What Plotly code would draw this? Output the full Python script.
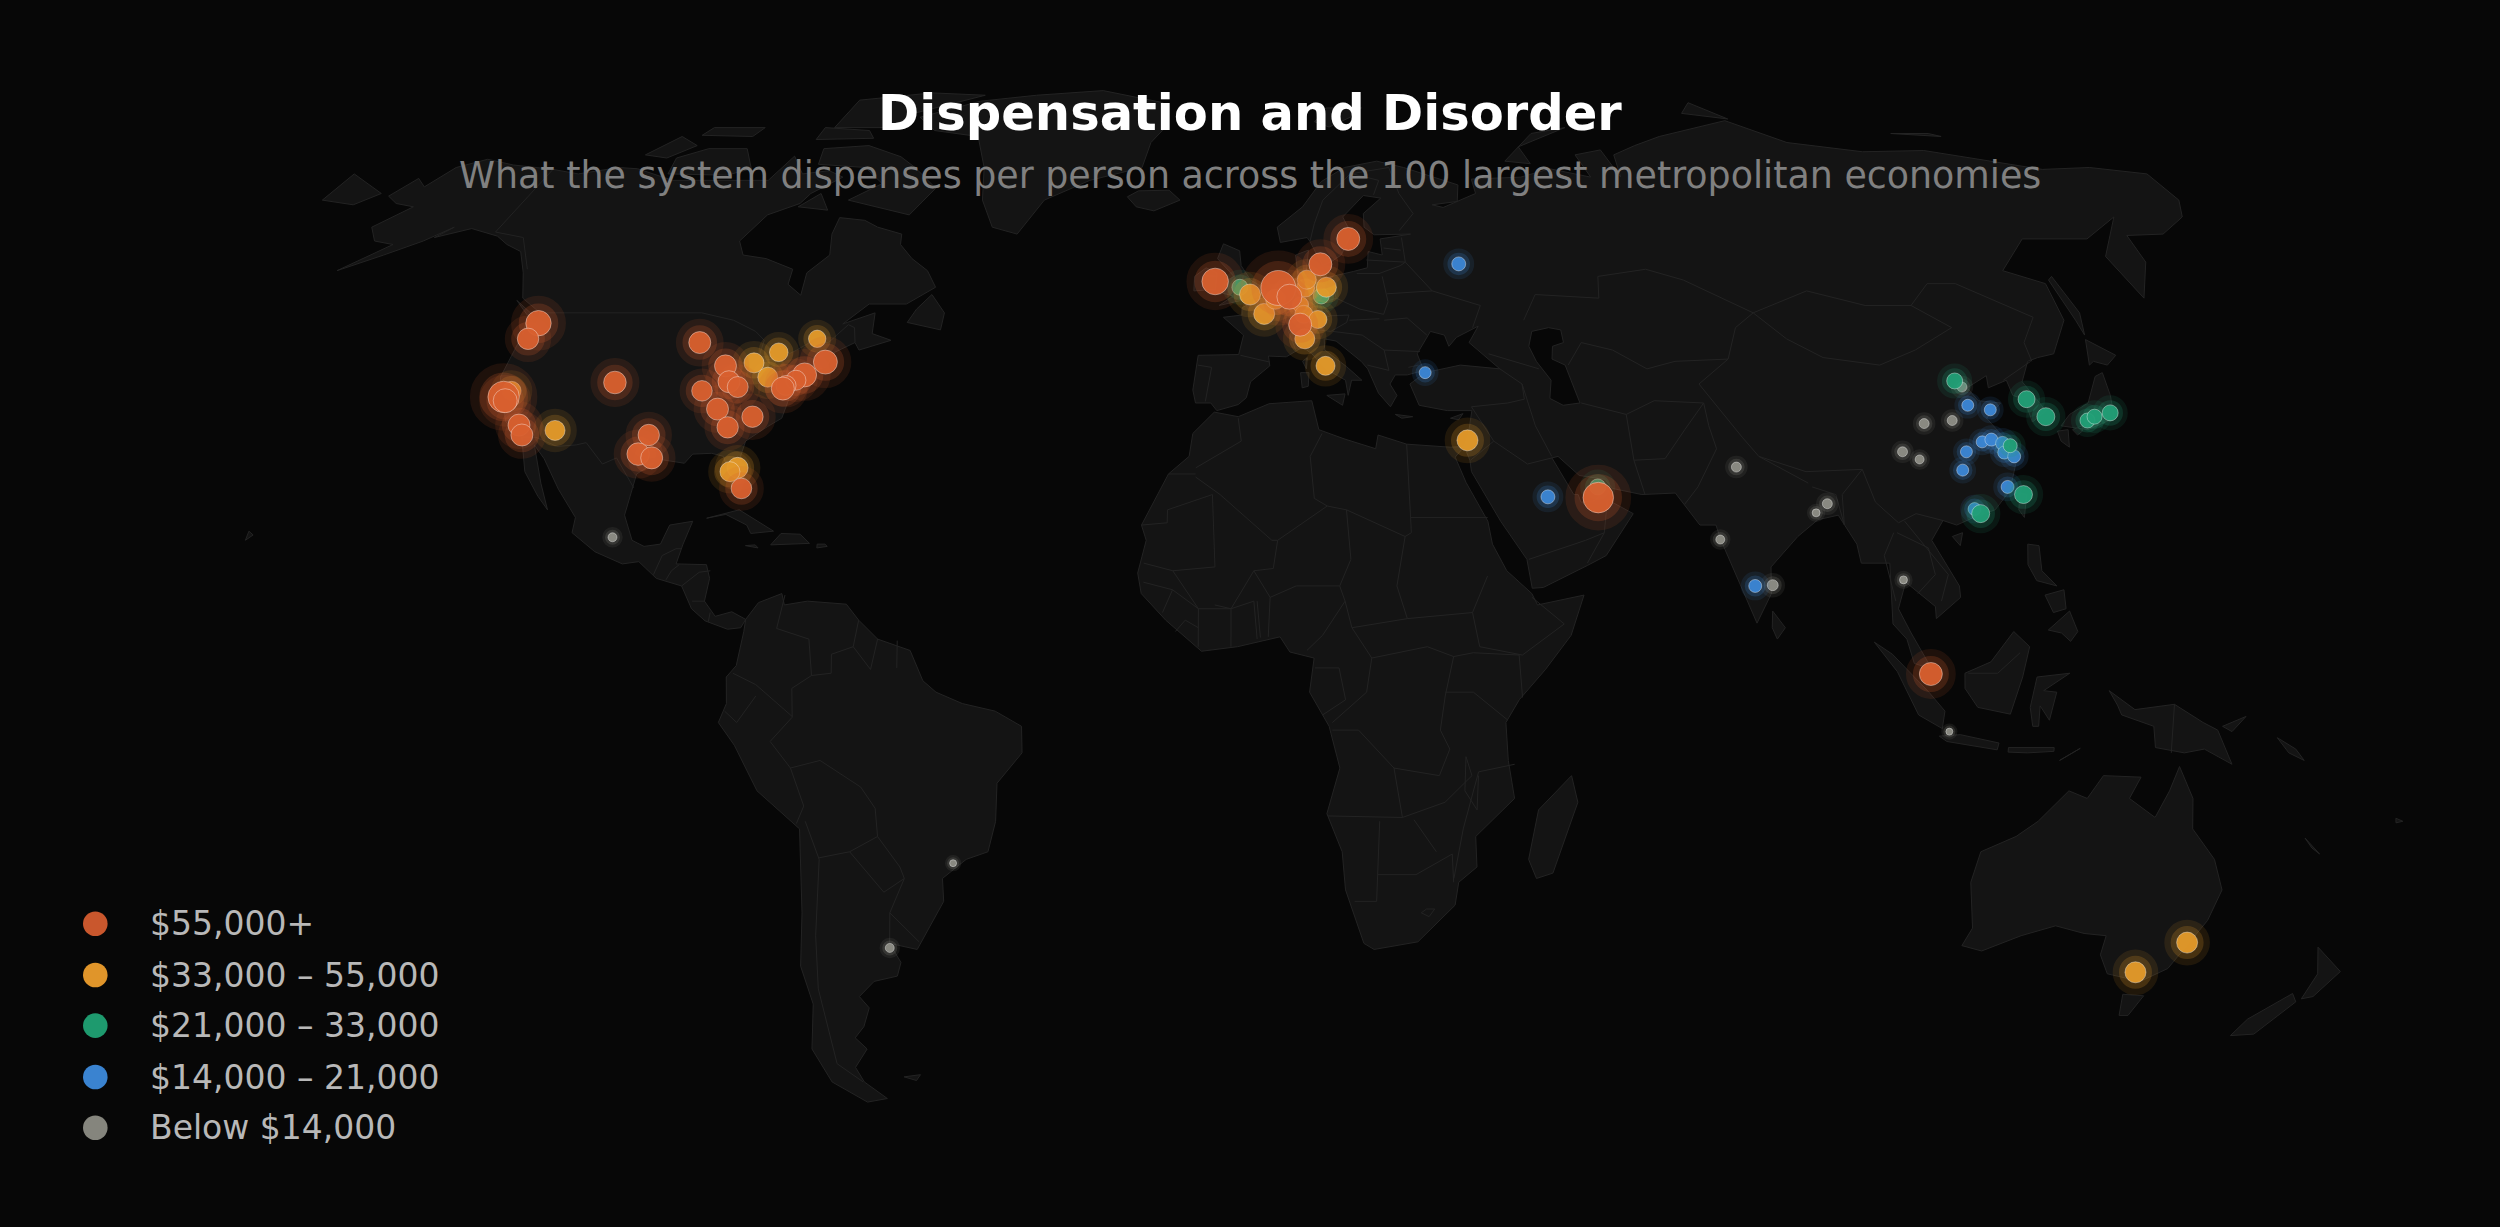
import numpy as np
import plotly.graph_objects as go

W, H = 2500, 1227
BG = "#070707"
LAND = "#141414"
BORDER = "#232323"

tier_names = ["$55,000+", "$33,000 – 55,000", "$21,000 – 33,000", "$14,000 – 21,000", "Below $14,000"]
tier_colors = ["#D9602F", "#E49A2A", "#22A077", "#3C87D6", "#8E8E86"]
legend_colors = ["#C9572D", "#E0952A", "#1E9A6E", "#3A83D0", "#85857D"]

# city, lon, lat, radius
red_cities = ["San Francisco", "San Jose", "Seattle", "Portland", "Los Angeles", "San Diego", "Denver",
              "Minneapolis", "Chicago", "Indianapolis", "Cincinnati", "St. Louis", "Nashville", "Atlanta",
              "Charlotte", "Dallas", "Austin", "Houston", "Miami", "Boston", "New York", "Philadelphia",
              "Baltimore", "Washington", "Dublin", "Amsterdam", "Dusseldorf", "Copenhagen", "Stockholm",
              "Zurich", "Abu Dhabi", "Singapore"]
red_lon = [-122.4, -121.9, -122.3, -122.7, -118.2, -117.2, -105.0, -93.3, -87.6, -86.2, -84.5, -90.2, -86.8,
           -84.4, -80.8, -96.8, -97.7, -95.4, -80.2, -71.1, -74.0, -75.2, -76.6, -77.0, -6.3, 4.9, 6.8, 12.6,
           18.1, 8.5, 54.6, 103.8]
red_lat = [37.8, 37.3, 47.6, 45.5, 34.1, 32.8, 39.7, 45.0, 41.9, 39.8, 39.1, 38.6, 36.2, 33.8, 35.2, 32.8,
           30.3, 29.8, 25.8, 42.4, 40.7, 40.0, 39.3, 38.9, 53.3, 52.4, 51.2, 55.7, 59.3, 47.4, 24.6, 1.4]
red_r = [15.7, 12, 12.7, 10.7, 11, 11, 11.3, 11, 11, 11, 10.5, 10.3, 11, 10.7, 10.7, 10.7, 11.3, 11, 10.3, 12,
         12, 10, 10, 11.5, 13.3, 17.5, 12.5, 11.5, 11.5, 11.5, 15.3, 11.5]

yellow_cities = ["Sacramento", "Phoenix", "Detroit", "Pittsburgh", "Toronto", "Montreal", "Orlando", "Tampa",
                 "London", "Paris", "Brussels", "Hanover", "Hamburg", "Berlin", "Frankfurt", "Stuttgart",
                 "Munich", "Milan", "Rome", "Tel Aviv", "Sydney", "Melbourne"]
yellow_lon = [-121.5, -112.1, -83.0, -80.0, -79.4, -73.6, -81.4, -82.5, -0.1, 2.35, 4.35, 9.7, 10.0, 13.4, 8.7,
              9.2, 11.6, 9.2, 12.5, 34.8, 151.2, 145.0]
yellow_lat = [38.6, 33.4, 42.3, 40.4, 43.7, 45.5, 28.5, 28.0, 51.5, 48.85, 50.85, 52.4, 53.55, 52.5, 50.1, 48.8,
              48.1, 45.5, 41.9, 32.1, -33.9, -37.8]
yellow_r = [9.5, 10, 10, 10, 9.3, 8.7, 10.5, 10, 10.5, 10.5, 10, 9, 9.5, 10, 8, 9, 9, 10, 9.5, 10.5, 10.5, 10.5]

green_cities = ["Birmingham", "Leipzig", "Dubai", "Beijing", "Seoul", "Busan", "Osaka", "Nagoya", "Tokyo",
                "Shanghai", "Taipei", "Shenzhen"]
green_lon = [-1.9, 12.4, 54.7, 116.4, 127.0, 129.0, 135.5, 136.9, 139.7, 121.6, 121.5, 114.1]
green_lat = [52.5, 51.3, 26.0, 39.9, 37.5, 35.2, 34.7, 35.2, 35.7, 31.4, 25.0, 22.5]
green_r = [8, 8, 8, 8, 8.5, 9, 7.5, 7.5, 8, 7, 9, 9]

blue_cities = ["Moscow", "Istanbul", "Riyadh", "Bangalore", "Jinan", "Qingdao", "Wuhan", "Changsha", "Hefei",
               "Nanjing", "Suzhou", "Hangzhou", "Ningbo", "Fuzhou", "Guangzhou"]
blue_lon = [37.6, 29.0, 46.7, 77.6, 117.0, 120.4, 114.3, 112.9, 117.3, 118.9, 120.5, 120.3, 121.7, 119.3, 113.3]
blue_lat = [55.75, 41.0, 24.7, 13.0, 36.7, 36.1, 30.6, 28.2, 31.9, 32.2, 31.7, 30.5, 30.0, 26.0, 23.1]
blue_r = [7, 6, 7, 6.5, 6, 6, 6, 6, 6, 6.5, 7, 6.5, 6.5, 6.5, 6.5]

gray_cities = ["Mexico City", "Buenos Aires", "Sao Paulo", "Delhi", "Mumbai", "Chennai", "Kolkata", "Dhaka",
               "Bangkok", "Jakarta", "Tianjin", "Xi'an", "Zhengzhou", "Chengdu", "Chongqing"]
gray_lon = [-99.1, -58.4, -46.6, 77.1, 72.9, 80.3, 88.4, 90.4, 100.5, 106.8, 117.2, 108.9, 113.6, 104.1, 106.5]
gray_lat = [19.4, -34.6, -23.5, 28.6, 19.1, 13.1, 22.6, 23.8, 13.8, -6.2, 39.1, 34.3, 34.7, 30.6, 29.6]
gray_r = [4.5, 4.5, 3.5, 5, 4.5, 5.5, 4, 5, 4, 3.5, 5, 5, 5, 5, 4.5]

north_america = [(-168,65.6),(-166,68.3),(-163,67),(-161,70),(-156.5,71.3),(-150,70.4),(-141,69.7),(-135,69),(-128,70),(-124,69.8),(-115,68),(-108,68),(-102,68),(-96,68),(-94,71.8),(-90,69),(-85,69.5),(-81.5,68.5),(-86,66),(-87,64.5),(-92,62.8),(-94.5,59),(-92.5,57),(-88,56.5),(-82.3,55),(-82,52.9),(-79,51.4),(-79.5,54.5),(-76.7,57),(-78,60),(-78,62.4),(-73,62),(-70,61),(-65,60),(-64.5,58.5),(-61.5,56.5),(-58,54.8),(-55.7,52.5),(-60,50.2),(-66.5,50.2),(-70,47.5),(-65,49),(-64.5,46.2),(-61,45.3),(-66,44),(-67,45),(-70,43.7),(-70.7,41.8),(-74,40.7),(-75.5,38),(-76,35),(-78,33.9),(-81,32),(-81.3,30),(-80,26.8),(-80.4,25.2),(-81.8,26.2),(-82.8,28),(-84,30),(-86,30.4),(-89,30.3),(-90,29.1),(-94,29.6),(-97.2,27.7),(-97.5,25),(-97.8,22.3),(-96,19),(-94,18.2),(-91.5,18.5),(-90.5,21),(-87,21.5),(-88,18.5),(-88.7,15.9),(-84,15.8),(-83.3,14),(-83.8,11),(-82,9),(-79.5,9.6),(-77.3,8.6),(-78,7.5),(-80,7.3),(-81.5,7.8),(-83.5,8.4),(-85.7,10),(-87.5,13),(-91.5,14),(-94.5,16.2),(-97,15.9),(-101.5,17.5),(-105.5,20),(-105.4,22),(-109,25.7),(-112.5,29.7),(-114.7,31.5),(-112,26.5),(-110,23),(-112,24.8),(-115,28),(-117.1,32.5),(-120.5,34.5),(-122.5,37.5),(-124.3,40.4),(-124,46),(-124.7,48.4),(-122.7,47.5),(-123,49),(-127.5,51),(-130.3,54.5),(-133.5,57.5),(-137,58.5),(-140,59.7),(-146,60.8),(-151.5,59.5),(-149.5,61),(-153,59),(-158,57),(-164,54.8),(-158,58.5),(-162,59),(-165,61),(-161,64),(-165,64.5)]
south_america = [(-77.3,8.6),(-75.5,10.8),(-72,12),(-71.5,10.5),(-68,11),(-62,10.6),(-60,8.5),(-57,6),(-52,4.5),(-50,0.5),(-48,-1),(-44,-2.5),(-39,-3.5),(-35,-5.5),(-35,-9),(-39,-13),(-39.5,-18),(-41,-22),(-44.5,-23),(-48.5,-25.5),(-48.7,-28.5),(-52,-32.5),(-54,-34.8),(-58.3,-34),(-57,-36.5),(-58,-38.3),(-62,-39),(-65,-41),(-63.8,-42.5),(-65.5,-45),(-67.5,-46.5),(-66,-48),(-69,-50.5),(-68.3,-52.5),(-65.2,-54.8),(-69,-55.3),(-74,-52.5),(-75.5,-48),(-73,-42),(-73.5,-37),(-71.5,-30),(-70,-19),(-76,-14),(-79,-8),(-81.3,-5),(-80,-2.5),(-80,1),(-78.5,2.5),(-77.5,7)]
africa = [(-5.9,35.8),(-2,35.2),(3,36.9),(10,37.3),(11,33.5),(15,32.3),(20,31),(20.5,32.8),(25,31.6),(32,31.2),(34.2,31.3),(32.6,29.9),(34,26.6),(37,21.5),(37.5,18.5),(39.5,15),(43.2,12),(44,10.5),(51.2,11.8),(49,6.5),(45,2),(41,-2),(39,-5),(39.5,-10),(40.7,-15),(35,-20),(35.5,-24),(32.8,-26),(32.5,-29),(27,-33.8),(20,-34.8),(18.3,-34),(15,-27),(14.3,-22),(11.8,-17),(13.7,-11),(12,-5.5),(9,-1),(9.7,3.5),(6,4.3),(4.5,6.3),(-2,5),(-7.5,4.4),(-13,8.5),(-16.8,12),(-17.4,14.7),(-16.2,19),(-17,21),(-13,27.7),(-9.8,30),(-9.3,33)]
eurasia = [(-9.5,38.7),(-8.8,43.3),(-2,43.4),(-1.2,46),(-4.7,48.4),(-1.5,48.7),(-1.5,49.7),(2,51),(4,52),(5,53.3),(8.5,53.7),(8.2,57),(10.6,57.7),(10,54.8),(11,54),(14,53.9),(18.5,54.7),(21,55.2),(21.5,57.5),(24,57),(24,59.3),(29.8,60),(23,59.9),(21.3,61),(21.5,63),(25.3,65.3),(22,65.7),(17.5,62.5),(18.8,60),(16.5,57),(14.5,56),(13,55.5),(11,58.9),(10.5,59.5),(5.5,58.8),(5,61),(10,64),(14,67.8),(19,70),(25.8,71),(31,70),(41,67.3),(40,64.8),(35,64.3),(37,63.9),(44,66),(44,68.2),(54,68.5),(60.5,69.8),(68,68.5),(67,72),(72.8,72.8),(74,68.5),(75,72),(80.5,73.5),(87,75),(104,77.7),(113,74),(127,72.5),(140,72.7),(160,69.7),(170,70),(180,69),(180,65),(177,62.5),(170,60),(163,59.8),(162,56),(156.5,51),(155.6,56.8),(164,62.5),(155,59.3),(143,59.3),(135,54.8),(141,53),(140,48),(135,43.5),(132,43),(130,42.5),(127.5,39.8),(129.4,36),(126.5,34.5),(126.6,37.5),(125,38),(125,40),(121.5,39),(122,40.6),(118,39),(119,37.3),(122.5,37),(119.3,35),(121.9,31.2),(121.9,29.5),(119.5,25.5),(116.5,23),(113.5,22.2),(110,21),(108,21.6),(105.7,19),(109,13),(109,11.5),(105,8.7),(105,10.3),(100.8,13.5),(99.3,10),(101,6.8),(104,2),(101.3,2.8),(100.3,6),(98.3,8),(98.7,16),(94.3,16),(94,18.5),(91.8,22.3),(88.5,21.7),(85,19.5),(80.3,15.5),(80,12),(77.5,8.1),(73,19),(72.5,21),(70,21),(66.8,25.2),(61.5,25),(57,25.8),(56,27),(52,27.5),(49,30),(48,29.8),(50.8,25),(51.5,25),(51.8,24),(54,24.2),(56.3,26),(56.7,24),(59.8,22.5),(55,17),(52,15.7),(45,12.8),(43.3,12.7),(42.7,16.5),(39,21.5),(35,28),(34.9,29.5),(34.2,31.3),(35,32.8),(36,36),(32,36),(27.5,36.7),(26.3,39.5),(29,41),(35,42),(41.5,41.5),(37,45),(39,47.2),(35,45.7),(33.5,44.5),(33,46),(30.7,46.5),(28,43.5),(28.8,41.3),(26,40.7),(24,40.7),(23,39.5),(24,38),(22.8,36.5),(21,38.3),(19.5,41.5),(18.5,42.5),(14.5,45.2),(12.5,45.5),(12.5,44),(16,41.8),(18.4,40),(16.7,40),(16,38),(15.7,40),(12.5,41.5),(10.3,43.5),(8.8,44.4),(6,43.1),(3,43.2),(3.2,41.9),(0,39.8),(-0.7,37.7),(-2,36.8),(-5.5,36),(-6.5,37),(-9,37)]
australia = [(114,-22),(113.5,-26),(115.8,-32),(115,-34.3),(118.5,-35),(124,-33),(129,-31.7),(134,-32.7),(137.7,-33),(138,-35.5),(140.5,-38),(146.5,-39),(150,-37.3),(153,-31),(153.5,-27),(150.8,-23),(146.2,-19),(145.3,-15),(142.5,-10.8),(141.5,-14),(140,-17.5),(135.5,-15),(136.8,-12.2),(131,-12),(129,-15),(126,-14),(122,-18),(119,-20)]
islands = [
    [(-80,73.5),(-72,71.7),(-68,70),(-62,66.8),(-65,62.8),(-72,64),(-78,65),(-73,67.5),(-78,70),(-88,70.5),(-89,73)],
    [(-117,69),(-105,68.8),(-101,69.8),(-105,73),(-113,73),(-118,71.5)],
    [(-125,72),(-120,71.5),(-116,73.5),(-121,75)],
    [(-90,76.5),(-78,76.5),(-75,79),(-62,82.5),(-75,83),(-90,81.5)],
    [(-92,74.5),(-80,74.7),(-82,76),(-92,76.5)],
    [(-117,75.2),(-106,75),(-105,76.5),(-116,76.5)],
    [(-59,47.7),(-53,46.7),(-53,49),(-56,51.5),(-58,49.5)],
    [(-87,64),(-81,63.5),(-84,66)],
    [(-128.3,50.7),(-123.4,48.4),(-125,48.7)],
    [(-73,78.3),(-68,76),(-58,75),(-54,70),(-52,65),(-48.5,61),(-43.5,60),(-40,65),(-32,68),(-22,70),(-21,74),(-18,77),(-20,81),(-35,83.5),(-50,82.5),(-62,81.3)],
    [(-24,65.5),(-22,64),(-18.5,63.4),(-13.7,65),(-16,66.5),(-22,66.4)],
    [(-84.9,21.9),(-80,23),(-74.2,20.2),(-77.7,19.9),(-78.5,21),(-82,22.4)],
    [(-74.4,18.4),(-68.4,18.6),(-70,19.8),(-73,19.9)],
    [(-78.3,18.3),(-76.3,18),(-76.8,18.4)],
    [(-67.2,18),(-65.6,18.2),(-66,18.5),(-67.2,18.5)],
    [(-61,-51.8),(-58,-51.5),(-59,-52.3)],
    [(49.3,-12),(50.5,-15.5),(47.5,-24.8),(45,-25.5),(43.5,-23),(44.5,-16.5)],
    [(-5.5,50),(1.3,51.2),(1.7,52.7),(0,53.5),(-1.7,55.5),(-2,57.6),(-5,58.6),(-6,56.5),(-3,54),(-4.5,53.3),(-5,51.7),(-3,51.3)],
    [(-10,52),(-6.2,52.2),(-6,54.5),(-8,55.2),(-10,54)],
    [(12.5,38),(15.5,38.2),(15,36.7)],
    [(8.3,41),(9.7,41),(9.5,39.2),(8.5,39)],
    [(8.7,42.5),(9.5,43),(9.3,41.5)],
    [(23.5,35.5),(26.3,35.2),(24.5,35)],
    [(32.4,35),(34.5,35.6),(33.7,34.8)],
    [(80,9.7),(81.8,7.5),(80.5,6),(79.8,7.5)],
    [(130.9,34),(135,33.5),(140,35),(141,38),(141.5,41),(140,40.5),(136.8,37),(133,35.5)],
    [(130,33.3),(131.8,33.5),(131,31.2),(130,32)],
    [(132.5,33.5),(134.3,34),(134,33.3),(133,32.8)],
    [(140,42),(141.7,45.4),(145.3,43.3),(143,42),(141,42.5)],
    [(142,46),(143.5,49),(143,54),(142,53.5),(142,48)],
    [(121,25.2),(122,25),(120.8,22),(120.2,23)],
    [(109,19.5),(110.7,20),(110,18.3)],
    [(120.5,18.5),(122.2,18.3),(122,15),(124,13),(121,13.7),(120,15.8)],
    [(122,7.2),(125.5,9.7),(126.5,7),(125.3,5.7),(124,6.8)],
    [(122,11.8),(125,12.5),(125,10),(123,9.5)],
    [(109,1.5),(113,3),(116.7,7),(119,5),(117.8,1),(116,-3.9),(111,-3),(109,-0.5)],
    [(95.3,5.6),(98,4),(103.5,-1),(106,-3.5),(105.7,-5.8),(102,-4),(98.7,1.7)],
    [(105.3,-6.8),(108.5,-6.6),(114.5,-7.7),(114.3,-8.6),(106.5,-7.5)],
    [(119.5,-5.5),(119,-3),(120,1),(125,1.5),(121,-0.8),(123,-1),(122,-4.7),(120.5,-2.8),(120.4,-5.5)],
    [(131,-0.8),(135,-3.3),(141,-2.6),(145.5,-5),(147.8,-6),(150.5,-10.5),(146,-8.5),(143,-9),(138.5,-8.3),(138,-5.5),(133,-4),(132.3,-2.7)],
    [(116,-8.3),(119,-8.3),(123,-8.3),(123,-8.8),(119,-9),(116,-8.9)],
    [(124,-10),(127,-8.4),(125,-9.5)],
    [(172.7,-34.5),(178.5,-37.7),(176.5,-41),(174.8,-41.3),(175,-38)],
    [(172.8,-40.6),(174.2,-41.7),(170.8,-46),(167,-46.2),(168,-44)],
    [(144.7,-40.7),(148.3,-40.9),(147.5,-43.5),(146,-43.5)],
    [(148.5,-5.5),(152,-4.2),(150,-6.2)],
    [(157,-7),(160,-8.5),(161.5,-10),(159,-9)],
    [(164,-20.2),(167,-22.3),(165.5,-21.5)],
    [(177.3,-17.6),(178.5,-18),(177.5,-18.2)],
    [(-156,19),(-155,19.7),(-155.8,20.2)],
    [(14,77.5),(17,76.6),(22,78.3),(25,80),(17,80)],
    [(52,71),(57,70.6),(56,73.3),(68,76.5),(60,75.5)],
    [(137,75.5),(145,75.5),(147,75)],
    [(96,79),(105,78),(100,81)],
    [(-180,69),(-175,67.5),(-170,66),(-173,64.3),(-180,65)],
]
# only the Caspian is cut out of the land in the picture
lakes = [
    [(47,44.5),(48,46.5),(51,47),(53,46.7),(53,45),(51,44.5),(50.5,42.8),(52.5,42),(53,40),(53.8,37),(51,36.7),(49,37.6),(49.7,40),(47.8,42.5)],
]
borders = [
    [(-123,49),(-95,49),(-89,48),(-84.5,46.5),(-82.5,45.3),(-82.5,42.5),(-79,42.9),(-76.5,44),(-74.7,45),(-71.5,45),(-69,47.4),(-67.8,47),(-67,45)],
    [(-141,69.7),(-141,60.3),(-135,59.5),(-130,55)],
    [(-117,32.5),(-114.8,32.5),(-111,31.3),(-108,31.5),(-106.5,31.8),(-103,29),(-101,29.8),(-97.2,25.9)],
    [(-92,14.5),(-91,17),(-89,17.9),(-88.2,17.9)],
    [(-88.2,15.8),(-89.3,15),(-90,13.8)],
    [(-87.5,13),(-85,14.8),(-83.3,15)],
    [(-85.7,11),(-83.7,11)],
    [(-83,8.3),(-82.8,9.5)],
    [(-71.5,11.8),(-72.5,7.4),(-67.5,6),(-67,1.2)],
    [(-60,8.5),(-60.7,5),(-64,4),(-64,1.5),(-67,1.2),(-70,-0.5),(-70,-4.3),(-73.5,-7.5),(-70.6,-11),(-66,-10),(-60,-13.5),(-58,-16.3),(-58,-20),(-55,-24),(-54.5,-25.5),(-57.5,-30),(-53.5,-33.8)],
    [(-79,1.5),(-75.5,0),(-70,-4.2)],
    [(-80.3,-3.5),(-78.5,-5),(-75.5,-1.5)],
    [(-70.6,-11),(-69,-16),(-70.4,-18.3)],
    [(-69,-18),(-67.5,-23),(-70,-33),(-71.5,-40),(-72,-50),(-68.5,-52.5)],
    [(-67.5,-22.8),(-62.6,-22),(-58,-20)],
    [(-62.6,-22),(-58,-27.3),(-54.5,-25.5)],
    [(-57,6),(-58,2),(-60.7,5)],
    [(-54,5.8),(-54,2.2)],
    [(-58.3,-34),(-57.5,-30)],
    [(-8.7,27.7),(-13,27.7)],
    [(-2,35),(-1.5,32),(-8.7,28.5)],
    [(-8.7,27.3),(-4.8,25),(3.3,19),(4.2,19),(12,23.5)],
    [(-17,21),(-13,21.3),(-13,23),(-6,25),(-5.5,15.5),(-12,15),(-16.5,16)],
    [(11.5,33),(9.5,30),(10,24.5),(12,23.5),(15,23),(24,19.5),(25,20),(25,31.6)],
    [(25,22),(37,22)],
    [(15,23),(15.5,16.5),(13.7,13),(14.5,11),(15.5,7.5),(24,8.7)],
    [(24,19.5),(22.5,13),(24,8.7)],
    [(4.2,19),(3.5,15.3),(0.5,15),(3,11.5),(7,13),(13.7,13)],
    [(2.7,6.3),(3,11.5)],
    [(14.5,11),(11,6.5),(8.6,4.5)],
    [(15.5,7.5),(18.5,3.5),(27,5),(31,3.7)],
    [(24,8.7),(34,9.5)],
    [(36.5,14.3),(34,9.5),(35,5),(41.5,3.9),(48,8),(43.2,11.5)],
    [(41.5,-1.7),(41,3.9),(34,4.2)],
    [(34,4.2),(31,3.7),(29.7,-1.5),(29,-6),(30.5,-8.5)],
    [(39.3,-4.7),(34,-1),(29.7,-1)],
    [(18.5,3.5),(17.7,-1),(12.5,-5)],
    [(12.5,-6),(16.5,-6),(22,-11),(29,-12),(30.5,-8.5)],
    [(12,-17.3),(23.5,-17.5),(22,-11)],
    [(23.5,-17.5),(30,-15.5),(34,-12),(33,-9.5)],
    [(40.5,-10.5),(35,-11.5),(33,-19),(32,-25.5)],
    [(33,-9.5),(33,-14),(35,-16.5),(35,-12)],
    [(25.3,-17.8),(29,-22)],
    [(20,-18),(20,-28.5),(16.5,-28.5)],
    [(20,-25),(26,-25),(31.5,-22.3),(32,-26)],
    [(28,-29.5),(29.3,-29.5),(28.5,-30.5),(27.2,-30),(28,-29.5)],
    [(-12,15),(-8,10),(-8,5)],
    [(-8,10),(-3,10),(-3,5)],
    [(-3,10),(0.5,11),(1,6)],
    [(1.5,6.2),(1,11)],
    [(-11.5,7),(-10,8.5),(-8,7.5)],
    [(-13.5,9.5),(-12,12.5),(-8,10)],
    [(-16.5,13.5),(-12,12.5)],
    [(-5.5,10.5),(-3,10),(0.5,15)],
    [(9.8,2.2),(13.5,2.2),(14.5,-2),(11,-4)],
    [(28,59.5),(28,56),(32,52),(40,50),(38,47)],
    [(47,48),(50,51.5),(61,51),(62,54),(71,55),(77,53.5),(87,49)],
    [(53,42),(56,45),(61,44),(66,41.5),(71,42.5),(80,42.8),(83,47),(87,49)],
    [(87,49),(98,52),(107,50),(115,50),(120,47),(112,44),(105,42),(96,43),(91,45.5),(87,49)],
    [(115,50),(120,53),(125,53),(135,48.4),(131,45),(130.7,42.5)],
    [(124.5,40),(130.5,42.5)],
    [(126.7,37.8),(128.5,38.5)],
    [(80,42.8),(74,39.5),(79,32.5),(81,30),(88,28),(97,28.3),(98,24),(101,21.3),(104,22.5),(108,21.6)],
    [(61,29.5),(62,25)],
    [(61,29.5),(66,29.7),(70,33.5),(74,37),(74,34),(74.5,31),(70.5,26),(68,23.7)],
    [(61,35.5),(66,37.3),(74,37)],
    [(61,29.5),(61,35.5),(54,37)],
    [(48,30),(46,34),(44.8,39.5)],
    [(36,36.5),(42,37),(44.8,37.5),(44.8,39.5),(41.5,41.5)],
    [(48,29.8),(44,29),(39,32),(36,36.5)],
    [(39,32),(35,29.5)],
    [(43,16.5),(52,19),(55,20),(52,16)],
    [(55,20),(56,24.3)],
    [(40,43.5),(48,41.5)],
    [(92.5,21),(93,25),(97,28.3)],
    [(100,20),(98,17),(99,11)],
    [(100.5,20),(105,18),(105.5,14.5),(102.5,12)],
    [(102,21.5),(107.5,14.5),(106,11)],
    [(88.5,26),(92,25),(92.5,21)],
    [(81,30),(88,26.5)],
    [(-1.7,43.3),(3.2,42.4)],
    [(-8.8,42),(-6.5,41.7),(-7.4,37.2)],
    [(2.5,51),(6,49.5),(8,49),(7.5,47.5),(6.5,46.4),(7.6,44)],
    [(14.2,54),(15,51),(12.3,50.3),(13.8,48.6),(10,47.5),(7.5,47.5)],
    [(7,53.3),(6,51),(3.4,51.4)],
    [(8.6,54.9),(9.9,54.8)],
    [(15,51),(19,49.5),(23,48.8),(24,50.5),(23.5,54)],
    [(19,54.4),(23,54.4),(27,55.5),(28,56)],
    [(21,56.3),(28,56)],
    [(24.4,58),(27.5,57.7)],
    [(24,51.6),(32,52)],
    [(23,48),(27,48.3),(30,46)],
    [(22.5,44),(28.5,43.8)],
    [(14,46.5),(19,46),(22.5,44),(23,41.3),(19.5,42)],
    [(26.3,41.7),(28,42)],
    [(7,46),(10.4,46.8),(13.7,46.5),(16.5,47.7),(17,48.7),(13.8,48.6)],
    [(17,48),(22.2,48.2)],
    [(11,59),(12,61.5),(14,65),(20,69),(28,70)],
    [(20.5,69),(25.5,68),(24,65.8)],
    [(28,70),(29,66),(31,63),(27.8,60.5)],
    [(141,-2.6),(141,-9)],
    [(109.5,1.5),(114,1.5),(117.5,4.2)],
    [(-8,54.1),(-6,54)],
]


# natural earth projection, fitted to the picture
def project(lon, lat):
    lam = np.radians(np.asarray(lon, dtype=float))
    phi = np.radians(np.asarray(lat, dtype=float))
    p2 = phi * phi
    p4 = p2 * p2
    px = lam * (0.8707 - 0.131979 * p2 + p4 * (-0.013791 + p4 * (0.003971 * p2 - 0.001529 * p4)))
    py = phi * (1.007226 + p2 * (0.015085 + p4 * (-0.044475 + 0.028874 * p2 - 0.005916 * p4)))
    return 1250.6 + 431.3 * px, 684.6 - 431.3 * py


def paths(rings, closed=True):
    xs, ys = [], []
    for ring in rings:
        pts = list(ring) + ([ring[0]] if closed else [])
        x, y = project([p[0] for p in pts], [p[1] for p in pts])
        xs += list(x) + [None]
        ys += list(y) + [None]
    return xs, ys


fig = go.Figure()

land_x, land_y = paths([north_america, south_america, africa, eurasia, australia] + islands)
fig.add_trace(go.Scatter(x=land_x, y=land_y, mode="lines", fill="toself", fillcolor=LAND,
                         line=dict(color=BORDER, width=1), hoverinfo="skip"))
lake_x, lake_y = paths(lakes)
fig.add_trace(go.Scatter(x=lake_x, y=lake_y, mode="lines", fill="toself", fillcolor=BG,
                         line=dict(color=BORDER, width=1), hoverinfo="skip"))
bx, by = paths(borders, closed=False)
fig.add_trace(go.Scatter(x=bx, y=by, mode="lines", line=dict(color=BORDER, width=1), hoverinfo="skip"))

tiers = [
    (gray_cities, gray_lon, gray_lat, gray_r, 4),
    (blue_cities, blue_lon, blue_lat, blue_r, 3),
    (green_cities, green_lon, green_lat, green_r, 2),
    (yellow_cities, yellow_lon, yellow_lat, yellow_r, 1),
    (red_cities, red_lon, red_lat, red_r, 0),
]
for names, lon, lat, r, i in tiers:
    x, y = project(lon, lat)
    d = np.array(r) * 2
    col = tier_colors[i]
    for scale, alpha in [(2.1, 0.11), (1.5, 0.2)]:
        fig.add_trace(go.Scatter(x=x, y=y, mode="markers", text=names, hoverinfo="text",
                                 marker=dict(size=d * scale, color=col, opacity=alpha,
                                             line=dict(width=1.5, color=col))))
    fig.add_trace(go.Scatter(x=x, y=y, mode="markers", text=names, hoverinfo="text",
                             marker=dict(size=d, color=col, opacity=0.95,
                                         line=dict(width=1, color="rgba(255,255,255,0.4)"))))

legend_y = [923.7, 975, 1025.6, 1077, 1127.7]
fig.add_trace(go.Scatter(x=[95.3] * 5, y=legend_y, mode="markers", hoverinfo="skip",
                         marker=dict(size=24.6, color=legend_colors, line=dict(width=0))))
for name, yy in zip(tier_names, legend_y):
    fig.add_annotation(x=148, y=yy, text=name, showarrow=False, xanchor="left", yanchor="middle",
                       font=dict(family="DejaVu Sans", size=33, color="#B8B8B8"))

fig.add_annotation(x=1250, y=113, text="<b>Dispensation and Disorder</b>", showarrow=False,
                   font=dict(family="DejaVu Sans", size=49.6, color="#FFFFFF"))
fig.add_annotation(x=1250, y=175, text="What the system dispenses per person across the 100 largest metropolitan economies",
                   showarrow=False, font=dict(family="DejaVu Sans", size=36.4, color="#808080"))

fig.update_layout(
    width=W, height=H, showlegend=False,
    paper_bgcolor=BG, plot_bgcolor=BG,
    margin=dict(l=0, r=0, t=0, b=0),
    xaxis=dict(range=[0, W], visible=False, fixedrange=True),
    yaxis=dict(range=[H, 0], visible=False, fixedrange=True),
)
# page margin would otherwise show as a white frame round the chart
fig.write_html("out.html", config=dict(displayModeBar=False),
               post_script="document.body.style.margin='0';document.body.style.background='#070707';")
